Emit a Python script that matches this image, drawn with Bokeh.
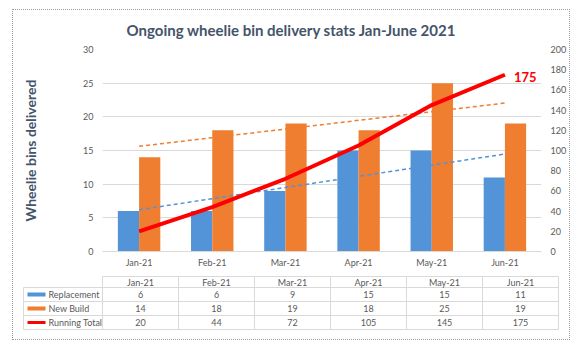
import numpy as np
from bokeh.plotting import figure
from bokeh.models import ColumnDataSource, FactorRange, Range1d, LinearAxis, FixedTicker
from bokeh.transform import dodge
from bokeh.layouts import column
from bokeh.embed import file_html
from bokeh.resources import INLINE
from bokeh.core.properties import value

# ---------------- data ----------------
months = ["Jan-21", "Feb-21", "Mar-21", "Apr-21", "May-21", "Jun-21"]
replacement = [6, 6, 9, 15, 15, 11]
new_build = [14, 18, 19, 18, 25, 19]
running_total = [20, 44, 72, 105, 145, 175]
series_names = ["Replacement", "New Build", "Running Total"]
left_ticks = [0, 5, 10, 15, 20, 25, 30]
right_ticks = [0, 20, 40, 60, 80, 100, 120, 140, 160, 180, 200]
title_text = "Ongoing wheelie bin delivery stats Jan-June 2021"
y_label = "Wheelie bins delivered"

# linear trendlines (least squares, as the spreadsheet does)
idx = np.arange(1, len(months) + 1)
rep_fit = np.polyval(np.polyfit(idx, replacement, 1), idx)
nb_fit = np.polyval(np.polyfit(idx, new_build, 1), idx)

# ---------------- style ----------------
FONT = "Lato"
BLUE = "#5393D7"
ORANGE = "#EF7E31"
RED = "#FF0000"
SLATE = "#44546A"
GREY_TXT = "#595959"
GRID = "#D9D9D9"
W = 556


def blank_fig(height):
    f = figure(width=W, height=height, x_range=Range1d(0, W), y_range=Range1d(height, 0),
               output_backend="svg", toolbar_location=None, title=None,
               x_axis_location=None, y_axis_location=None, min_border=0)
    f.grid.visible = False
    f.outline_line_color = None
    f.frame_align = False
    return f


# ---------------- title ----------------
H_T = 31
pT = blank_fig(H_T)
pT.text(x=[W / 2], y=[19], text=[title_text], text_align="center", text_baseline="middle",
        text_font=value(FONT), text_font_style="bold", text_font_size="15px", text_color=SLATE)

# ---------------- chart ----------------
src = ColumnDataSource(dict(month=months, rep=replacement, nb=new_build, rt=running_total,
                            rep_fit=rep_fit, nb_fit=nb_fit))

pA = figure(width=W, height=231, x_range=FactorRange(factors=months), y_range=Range1d(0, 30),
            output_backend="svg", toolbar_location=None, title=None,
            min_border_left=89, min_border_right=28, min_border_top=8, min_border_bottom=21)
pA.outline_line_color = None
pA.xgrid.visible = False
pA.ygrid.grid_line_color = GRID
pA.yaxis.ticker = FixedTicker(ticks=left_ticks)
pA.extra_y_ranges = {"rt": Range1d(0, 200)}
pA.add_layout(LinearAxis(y_range_name="rt", ticker=FixedTicker(ticks=right_ticks)), "right")

for ax in pA.axis:
    ax.major_tick_line_color = None
    ax.minor_tick_line_color = None
    ax.major_tick_out = 0
    ax.major_tick_in = 0
    ax.minor_tick_out = 0
    ax.minor_tick_in = 0
    ax.major_label_text_font = FONT
    ax.major_label_text_font_size = "9px"
    ax.major_label_text_color = GREY_TXT
    ax.major_label_standoff = 9
    ax.axis_line_color = None
pA.xaxis.axis_line_color = GRID
pA.xaxis.major_label_standoff = 5

pA.yaxis[0].axis_label = y_label
pA.yaxis[0].axis_label_text_font = FONT
pA.yaxis[0].axis_label_text_font_size = "14px"
pA.yaxis[0].axis_label_text_font_style = "bold"
pA.yaxis[0].axis_label_text_color = SLATE
pA.yaxis[0].axis_label_standoff = 41

pA.vbar(x=dodge("month", -0.145, range=pA.x_range), top="rep", width=0.29, source=src,
        fill_color=BLUE, line_color=None)
pA.vbar(x=dodge("month", 0.145, range=pA.x_range), top="nb", width=0.29, source=src,
        fill_color=ORANGE, line_color=None)
pA.line(x="month", y="nb_fit", source=src, line_color=ORANGE, line_width=1.5, line_dash="4 3")
pA.line(x="month", y="rep_fit", source=src, line_color=BLUE, line_width=1.5, line_dash="4 3")
pA.line(x="month", y="rt", source=src, y_range_name="rt", line_color=RED, line_width=4)

last = ColumnDataSource(dict(month=[months[-1]], rt=[running_total[-1]], txt=[str(running_total[-1])]))
pA.text(x="month", y="rt", text="txt", source=last, y_range_name="rt", x_offset=9, y_offset=2,
        text_align="left", text_baseline="middle", text_font=value(FONT), text_font_style="bold",
        text_font_size="13px", text_color=RED)

# ---------------- data table ----------------
H_B = 67
pB = blank_fig(H_B)

TAB_LEFT = 89       # where month columns start
LEG_LEFT = 10       # legend column left
COL_W = 76
HEAD_TOP, HEAD_BOT, ROW_H = 4, 15, 14
n = len(months)
tab_right = TAB_LEFT + COL_W * n
row_bounds = [HEAD_BOT + ROW_H * r for r in range(4)]

hx0 = [TAB_LEFT] + [LEG_LEFT] * len(row_bounds)
hy = [HEAD_TOP] + row_bounds
pB.segment(x0=hx0, y0=hy, x1=[tab_right] * len(hy), y1=hy, line_color=GRID, line_width=1)
vx = [LEG_LEFT] + [TAB_LEFT + COL_W * i for i in range(n + 1)]
vy0 = [HEAD_BOT] + [HEAD_TOP] * (n + 1)
pB.segment(x0=vx, y0=vy0, x1=vx, y1=[row_bounds[-1]] * len(vx), line_color=GRID, line_width=1)

col_c = [TAB_LEFT + COL_W * (i + 0.5) for i in range(n)]
pB.text(x=col_c, y=[(HEAD_TOP + HEAD_BOT) / 2] * n, text=months, text_align="center",
        text_baseline="middle", text_font=value(FONT), text_font_size="9px", text_color=GREY_TXT)

rows = [replacement, new_build, running_total]
colors = [BLUE, ORANGE, RED]
widths = [4, 4, 3]
for r, (vals, name, col, lw) in enumerate(zip(rows, series_names, colors, widths)):
    yc = HEAD_BOT + ROW_H * (r + 0.5)
    pB.text(x=col_c, y=[yc] * n, text=[str(v) for v in vals], text_align="center",
            text_baseline="middle", text_font=value(FONT), text_font_size="9px", text_color=GREY_TXT)
    pB.segment(x0=[LEG_LEFT + 4], y0=[yc], x1=[LEG_LEFT + 22], y1=[yc], line_color=col, line_width=lw)
    pB.text(x=[LEG_LEFT + 25], y=[yc], text=[name], text_align="left", text_baseline="middle",
            text_font=value(FONT), text_font_size="9px", text_color=GREY_TXT)

layout = column(pT, pA, pB, spacing=0, margin=(9, 0, 0, 12),
                styles={"border": "1px dotted #9A9A9A"})

open("out.html", "w").write(file_html(layout, INLINE))
